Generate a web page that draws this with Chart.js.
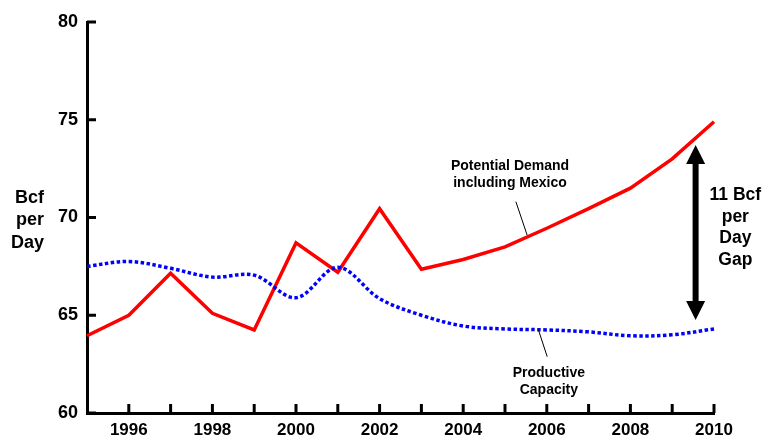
<!DOCTYPE html>
<html lang="en">
<head>
    <meta charset="UTF-8">
    <title>Natural gas demand vs productive capacity</title>
    <script src="https://cdn.jsdelivr.net/npm/chart.js"></script>
    <style>
        html, body {
            margin: 0;
            padding: 0;
            background: #ffffff;
        }
        #wrap {
            width: 765px;
            height: 438px;
        }
    </style>
</head>
<body>
    <div id="wrap"><canvas id="myChart" width="765" height="438"></canvas></div>

    <script>
        // data
        const years = ['1995', '1996', '1997', '1998', '1999', '2000', '2001', '2002',
                       '2003', '2004', '2005', '2006', '2007', '2008', '2009', '2010'];
        const demand = [63.95, 65.0, 67.15, 65.1, 64.25, 68.7, 67.2, 70.45,
                        67.35, 67.85, 68.5, 69.45, 70.45, 71.5, 73.0, 74.9];
        const capacity = [67.5, 67.75, 67.4, 66.95, 67.05, 65.9, 67.45, 65.85,
                          65.0, 64.45, 64.3, 64.25, 64.15, 63.95, 64.0, 64.3];
        const yTicks = [60, 65, 70, 75, 80];

        const FONT = '"Liberation Sans", Arial, sans-serif';

        // inward tick marks + notes, drawn in scale space
        const notesPlugin = {
            id: 'notes',
            afterDraw(chart) {
                const ctx = chart.ctx;
                const xs = chart.scales.x;
                const ys = chart.scales.y;
                const X = v => xs.getPixelForValue(v);
                const Y = v => ys.getPixelForValue(v);
                const area = chart.chartArea;

                ctx.save();
                ctx.strokeStyle = '#000';
                ctx.lineWidth = 3;
                ctx.lineCap = 'butt';
                // y ticks
                yTicks.forEach(v => {
                    ctx.beginPath();
                    ctx.moveTo(area.left, Y(v));
                    ctx.lineTo(area.left + 9, Y(v));
                    ctx.stroke();
                });
                // x ticks, one per year
                for (let i = 1; i < years.length; i++) {
                    ctx.beginPath();
                    ctx.moveTo(X(i), area.bottom);
                    ctx.lineTo(X(i), area.bottom - 9);
                    ctx.stroke();
                }

                ctx.fillStyle = '#000';
                ctx.textBaseline = 'middle';

                // y axis title
                ctx.font = 'bold 18px ' + FONT;
                ctx.textAlign = 'right';
                ['Bcf', 'per', 'Day'].forEach((t, i) => {
                    ctx.fillText(t, 44, Y(71.0) + i * 22.5);
                });

                // demand label + leader
                ctx.font = 'bold 14px ' + FONT;
                ctx.textAlign = 'center';
                ctx.fillText('Potential Demand', X(10.12), Y(72.63));
                ctx.fillText('including Mexico', X(10.12), Y(71.76));
                ctx.lineWidth = 1;
                ctx.beginPath();
                ctx.moveTo(X(10.26), Y(70.81));
                ctx.lineTo(X(10.53), Y(69.1));
                ctx.stroke();

                // capacity label + leader
                ctx.fillText('Productive', X(11.05), Y(62.06));
                ctx.fillText('Capacity', X(11.05), Y(61.18));
                ctx.beginPath();
                ctx.moveTo(X(10.80), Y(64.25));
                ctx.lineTo(X(11.01), Y(62.88));
                ctx.stroke();

                // gap arrow
                const ax = X(14.56);
                const top = Y(73.71);
                const bot = Y(64.76);
                ctx.lineWidth = 6;
                ctx.beginPath();
                ctx.moveTo(ax, top + 15);
                ctx.lineTo(ax, bot - 15);
                ctx.stroke();
                ctx.beginPath();
                ctx.moveTo(ax, top);
                ctx.lineTo(ax - 9.5, top + 19);
                ctx.lineTo(ax + 9.5, top + 19);
                ctx.closePath();
                ctx.fill();
                ctx.beginPath();
                ctx.moveTo(ax, bot);
                ctx.lineTo(ax - 9.5, bot - 19);
                ctx.lineTo(ax + 9.5, bot - 19);
                ctx.closePath();
                ctx.fill();

                ctx.font = 'bold 17.5px ' + FONT;
                ['11 Bcf', 'per', 'Day', 'Gap'].forEach((t, i) => {
                    ctx.fillText(t, X(15.51), Y(71.15) + i * 21.7);
                });
                ctx.restore();
            }
        };

        const ctx = document.getElementById('myChart').getContext('2d');
        const myChart = new Chart(ctx, {
            type: 'line',
            data: {
                labels: years,
                datasets: [{
                    label: 'Productive Capacity',
                    data: capacity,
                    borderColor: '#0000ff',
                    borderWidth: 3.5,
                    borderDash: [3.5, 2.5],
                    tension: 0.35,
                    pointRadius: 0,
                    fill: false
                }, {
                    label: 'Potential Demand including Mexico',
                    data: demand,
                    borderColor: '#ff0000',
                    borderWidth: 3.5,
                    tension: 0,
                    pointRadius: 0,
                    fill: false
                }]
            },
            options: {
                responsive: false,
                animation: false,
                layout: {
                    padding: { top: 22, right: 51, left: 0, bottom: 0 }
                },
                plugins: {
                    legend: { display: false },
                    tooltip: { enabled: false }
                },
                scales: {
                    x: {
                        offset: false,
                        grid: { display: false, drawTicks: false },
                        border: { display: true, color: '#000', width: 3 },
                        ticks: {
                            autoSkip: false,
                            maxRotation: 0,
                            padding: 7,
                            color: '#000',
                            font: { family: FONT, size: 17, weight: 'bold' },
                            callback: function (value, index) {
                                const lab = years[index];
                                return (Number(lab) % 2 === 0) ? lab : '';
                            }
                        },
                        afterFit(scale) { scale.height = 25; }
                    },
                    y: {
                        min: 60,
                        max: 80,
                        grid: { display: false, drawTicks: false },
                        border: { display: true, color: '#000', width: 3 },
                        ticks: {
                            stepSize: 5,
                            padding: 9,
                            color: '#000',
                            font: { family: FONT, size: 18, weight: 'bold' }
                        },
                        afterFit(scale) { scale.width = 87; }
                    }
                }
            },
            plugins: [notesPlugin]
        });
    </script>
</body>
</html>
